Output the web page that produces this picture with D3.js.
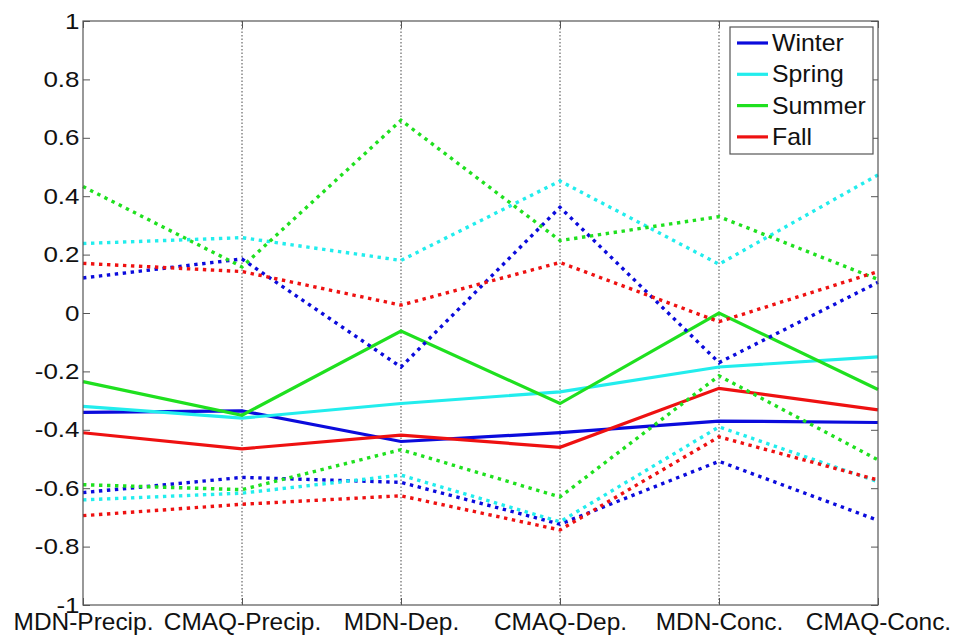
<!DOCTYPE html>
<html>
<head>
<meta charset="utf-8">
<script src="https://cdn.jsdelivr.net/npm/d3@7"></script>
<style>
  html, body { margin: 0; padding: 0; background: #fff; }
  svg { display: block; }
  text { font-family: Arial, "Liberation Sans", sans-serif; fill: #111; }
</style>
</head>
<body>
<div id="chart"></div>
<script>
// Measures compared along the x axis
const categories = ["MDN-Precip.", "CMAQ-Precip.", "MDN-Dep.", "CMAQ-Dep.", "MDN-Conc.", "CMAQ-Conc."];
const yTickValues = [-1, -0.8, -0.6, -0.4, -0.2, 0, 0.2, 0.4, 0.6, 0.8, 1];
const seasons = ["Winter", "Spring", "Summer", "Fall"];

// Central estimate per season (solid lines)
const winterMid = [-0.34, -0.335, -0.44, -0.41, -0.37, -0.375];
const springMid = [-0.32, -0.36, -0.31, -0.27, -0.185, -0.15];
const summerMid = [-0.235, -0.35, -0.062, -0.31, 0.0, -0.262];
const fallMid   = [-0.41, -0.465, -0.418, -0.46, -0.258, -0.332];

// Upper bound per season (dotted lines)
const winterHigh = [0.12, 0.185, -0.185, 0.362, -0.17, 0.105];
const springHigh = [0.238, 0.258, 0.18, 0.452, 0.167, 0.473];
const summerHigh = [0.433, 0.158, 0.66, 0.248, 0.33, 0.115];
const fallHigh   = [0.17, 0.142, 0.027, 0.173, -0.03, 0.142];

// Lower bound per season (dotted lines)
const winterLow = [-0.615, -0.563, -0.58, -0.723, -0.508, -0.71];
const springLow = [-0.64, -0.617, -0.555, -0.715, -0.39, -0.578];
const summerLow = [-0.588, -0.605, -0.468, -0.63, -0.215, -0.503];
const fallLow   = [-0.694, -0.655, -0.626, -0.743, -0.424, -0.572];

const seasonColors = ["#0b0bdc", "#22eded", "#1fe01f", "#ee1111"];

const series = [
  { name: "Winter", mid: winterMid, high: winterHigh, low: winterLow },
  { name: "Spring", mid: springMid, high: springHigh, low: springLow },
  { name: "Summer", mid: summerMid, high: summerHigh, low: summerLow },
  { name: "Fall",   mid: fallMid,   high: fallHigh,   low: fallLow }
];

const W = 958, H = 639;
const margin = { left: 83, right: 80, top: 21, bottom: 34 };

const svg = d3.select("#chart").append("svg")
  .attr("width", W).attr("height", H);

const x = d3.scalePoint()
  .domain(categories)
  .range([margin.left, W - margin.right]);

const y = d3.scaleLinear()
  .domain([-1, 1])
  .range([H - margin.bottom, margin.top]);

const x0 = margin.left, x1 = W - margin.right;
const y0 = H - margin.bottom, y1 = margin.top;

// Vertical dotted grid at interior categories
svg.append("g")
  .selectAll("line")
  .data(categories.slice(1, -1))
  .join("line")
  .attr("x1", d => x(d)).attr("x2", d => x(d))
  .attr("y1", y1).attr("y2", y0)
  .attr("stroke", "#333")
  .attr("stroke-width", 0.9)
  .attr("stroke-dasharray", "1.5,2");

// Lines
const line = d3.line()
  .x((d, i) => x(categories[i]))
  .y(d => y(d));

const plot = svg.append("g");
series.forEach((s, k) => {
  plot.append("path").datum(s.mid)
    .attr("d", line)
    .attr("fill", "none")
    .attr("stroke", seasonColors[k])
    .attr("stroke-width", 3.2)
    .attr("stroke-linejoin", "miter");
});
series.forEach((s, k) => {
  [s.high, s.low].forEach(vals => {
    plot.append("path").datum(vals)
      .attr("d", line)
      .attr("fill", "none")
      .attr("stroke", seasonColors[k])
      .attr("stroke-width", 3.4)
      .attr("stroke-dasharray", "3.4,4.6");
  });
});

// Axes (ticks point inward, box on all sides)
const axisColor = "#555";
const yLeft = svg.append("g")
  .attr("transform", `translate(${x0},0)`)
  .call(d3.axisLeft(y).tickValues(yTickValues).tickSize(-7).tickPadding(3)
    .tickFormat(d => String(d)));
const yRight = svg.append("g")
  .attr("transform", `translate(${x1},0)`)
  .call(d3.axisRight(y).tickValues(yTickValues).tickSize(-7).tickFormat(""));
const xBottom = svg.append("g")
  .attr("transform", `translate(0,${y0})`)
  .call(d3.axisBottom(x).tickSize(-7).tickPadding(8));
const xTop = svg.append("g")
  .attr("transform", `translate(0,${y1})`)
  .call(d3.axisTop(x).tickSize(-7).tickFormat(""));

[yLeft, yRight, xBottom, xTop].forEach(g => {
  g.select(".domain").remove();
  g.selectAll(".tick line").attr("stroke", axisColor).attr("stroke-width", 1);
});

yLeft.selectAll("text")
  .attr("font-size", 22)
  .attr("fill", "#111")
  .attr("transform", "scale(1.18,1)");
xBottom.selectAll("text")
  .attr("font-size", 23.5)
  .attr("fill", "#111")
  .attr("transform", "scale(1.04,1)");

svg.append("rect")
  .attr("x", x0).attr("y", y1)
  .attr("width", x1 - x0).attr("height", y0 - y1)
  .attr("fill", "none")
  .attr("stroke", axisColor)
  .attr("stroke-width", 1.2);

// Legend
const legend = svg.append("g").attr("transform", "translate(730,27)");
legend.append("rect")
  .attr("width", 143).attr("height", 127)
  .attr("fill", "#fff")
  .attr("stroke", "#555")
  .attr("stroke-width", 1.2);
const item = legend.selectAll("g.item")
  .data(seasons)
  .join("g")
  .attr("class", "item")
  .attr("transform", (d, i) => `translate(0,${16 + i * 31.3})`);
item.append("line")
  .attr("x1", 7).attr("x2", 38)
  .attr("stroke", (d, i) => seasonColors[i])
  .attr("stroke-width", 3.2);
item.append("text")
  .attr("x", 0).attr("y", 0)
  .attr("dy", "0.35em")
  .attr("font-size", 23)
  .attr("transform", "translate(42,0) scale(1.08,1)")
  .text(d => d);
</script>
</body>
</html>
